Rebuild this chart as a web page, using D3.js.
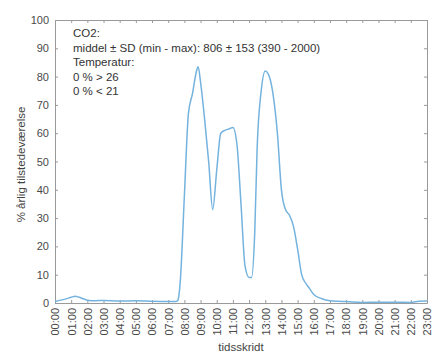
<!DOCTYPE html>
<html lang="en">
<head>
<meta charset="utf-8">
<script src="https://d3js.org/d3.v7.min.js"></script>
<style>
    body { margin: 0; background: #fff; font-family: "Liberation Sans", Arial, sans-serif; }
    .axis text { fill: #4a4a4a; font-size: 11px; font-family: "Liberation Sans", Arial, sans-serif; }
    .axis path, .axis line { stroke: #9a9a9a; }
</style>
</head>
<body>
<div id="chart"></div>
<script>
// time of day (hours) and share of the year the room is occupied (%)
var hours = [0, 0.5, 1, 1.25, 1.5, 2, 2.5, 3, 4, 5, 6, 7, 7.5, 7.6, 7.75, 8, 8.25, 8.5, 8.75, 8.85,
    9, 9.25, 9.5, 9.75, 10, 10.25, 10.5, 10.75, 11, 11.25, 11.5, 11.75, 12, 12.15, 12.35, 12.5,
    12.75, 13, 13.25, 13.5, 13.75, 14, 14.25, 14.5, 14.75, 15, 15.25, 15.5, 15.75, 16, 16.5,
    17, 17.5, 18, 19, 20, 21, 22, 22.5, 23];
var presence = [0.5, 1.2, 2.0, 2.4, 2.0, 1.0, 0.8, 0.9, 0.7, 0.8, 0.6, 0.5, 0.5, 1, 8, 38, 67, 74, 82, 83.5,
    78, 65, 50, 33, 47, 60, 61, 61.5, 62, 56, 35, 13, 9, 9, 25, 55,
    75, 82, 80, 73, 60, 40, 33, 31, 27, 19, 10, 7, 5, 3, 1.5,
    0.8, 0.6, 0.5, 0.2, 0.3, 0.3, 0.2, 0.6, 0.7];

var xTickLabels = d3.range(24).map(function(h) { return (h < 10 ? "0" : "") + h + ":00"; });
var yTicks = [0, 10, 20, 30, 40, 50, 60, 70, 80, 90, 100];

var infoLines = [
    "CO2:",
    "middel \u00b1 SD (min - max): 806 \u00b1 153 (390 - 2000)",
    "Temperatur:",
    "0 % > 26",
    "0 % < 21"
];

var W = 433, H = 352;
var margin = { top: 20, right: 6, bottom: 49, left: 55 };
var width = W - margin.left - margin.right,
    height = H - margin.top - margin.bottom;

var svg = d3.select("#chart").append("svg")
    .attr("width", W)
    .attr("height", H);

var g = svg.append("g")
    .attr("transform", "translate(" + margin.left + "," + margin.top + ")");

var x = d3.scaleLinear().domain([0, 23]).range([0, width]);
var y = d3.scaleLinear().domain([0, 100]).range([height, 0]);

// bottom axis with rotated hour labels
var xAxis = g.append("g")
    .attr("class", "axis")
    .attr("transform", "translate(0," + height + ")")
    .call(d3.axisBottom(x)
        .tickValues(d3.range(24))
        .tickFormat(function(d) { return xTickLabels[d]; })
        .tickSizeInner(-3).tickSizeOuter(0));
xAxis.selectAll("text")
    .attr("transform", "rotate(-90)")
    .attr("x", -5)
    .attr("y", 0)
    .attr("dy", "0.35em")
    .style("text-anchor", "end");

// top axis (ticks only)
g.append("g")
    .attr("class", "axis")
    .call(d3.axisTop(x).tickValues(d3.range(24)).tickFormat("")
        .tickSizeInner(-3).tickSizeOuter(0));

// left axis
g.append("g")
    .attr("class", "axis")
    .call(d3.axisLeft(y).tickValues(yTicks)
        .tickSizeInner(-3).tickSizeOuter(0).tickPadding(6));

// right axis (ticks only)
g.append("g")
    .attr("class", "axis")
    .attr("transform", "translate(" + width + ",0)")
    .call(d3.axisRight(y).tickValues(yTicks).tickFormat("")
        .tickSizeInner(-3).tickSizeOuter(0));

// the line
var line = d3.line()
    .x(function(d, i) { return x(hours[i]); })
    .y(function(d) { return y(d); })
    .curve(d3.curveMonotoneX);

g.append("path")
    .datum(presence)
    .attr("fill", "none")
    .attr("stroke", "#74b3de")
    .attr("stroke-width", 1.5)
    .attr("d", line);

// text block top left
g.append("g")
    .selectAll("text")
    .data(infoLines)
    .enter()
    .append("text")
    .attr("x", 18)
    .attr("y", function(d, i) { return 17 + i * 14.5; })
    .style("font-size", "11.5px")
    .style("fill", "#333")
    .text(function(d) { return d; });

// axis titles
svg.append("text")
    .attr("transform", "translate(" + 25 + "," + (margin.top + height / 2 + 3) + ") rotate(-90)")
    .style("text-anchor", "middle")
    .style("font-size", "11.5px")
    .style("fill", "#444")
    .text("% \u00e5rlig tilstedev\u00e6relse");

svg.append("text")
    .attr("x", margin.left + width / 2)
    .attr("y", H - 1)
    .style("text-anchor", "middle")
    .style("font-size", "11.5px")
    .style("fill", "#444")
    .text("tidsskridt");
</script>
</body>
</html>
